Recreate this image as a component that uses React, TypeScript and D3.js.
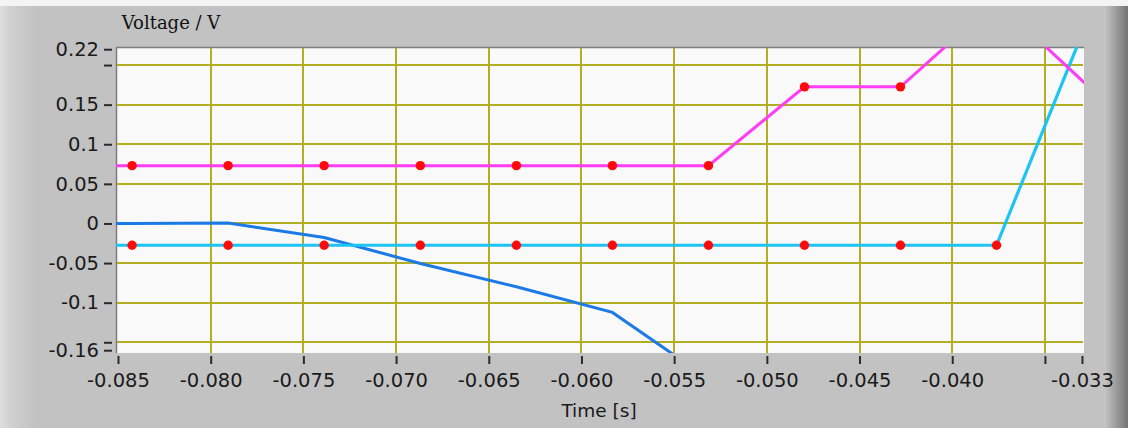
import React, { useEffect, useRef } from 'react'
import * as d3 from 'd3'

// sample times (s)
const times = [-0.08942, -0.08424, -0.07906, -0.07388, -0.06869, -0.06351, -0.05833, -0.05315, -0.04797, -0.04279, -0.03761, -0.03243]

// voltages (V)
const magentaVals = [0.073, 0.073, 0.073, 0.073, 0.073, 0.073, 0.073, 0.073, 0.1725, 0.1725, 0.281, 0.168]
const cyanVals = [-0.0275, -0.0275, -0.0275, -0.0275, -0.0275, -0.0275, -0.0275, -0.0275, -0.0275, -0.0275, -0.0275, 0.272]
const blueVals = [0, 0, 0.0005, -0.0177, -0.0505, -0.08, -0.1123, -0.196]

const xTicks = [-0.085, -0.08, -0.075, -0.07, -0.065, -0.06, -0.055, -0.05, -0.045, -0.04, -0.033]
const xMinorTicks = [-0.035]
const xGrid = [-0.08, -0.075, -0.07, -0.065, -0.06, -0.055, -0.05, -0.045, -0.04, -0.035]
const yTicks = [0.22, 0.15, 0.1, 0.05, 0, -0.05, -0.1, -0.16]
const yMinorTicks = [0.2, -0.15]
const yGrid = [0.2, 0.15, 0.1, 0.05, 0, -0.05, -0.1, -0.15]

const W = 1128
const H = 428
const plot = { left: 116, top: 47, right: 1084, bottom: 353 }
const gridColor = '#b3ad22'

function Chart() {
    const ref = useRef<SVGSVGElement>(null)

    useEffect(() => {
        const svg = d3.select(ref.current)
        svg.selectAll('*').remove()

        const x = d3.scaleLinear().domain([-0.085, -0.033]).range([118, 1082])
        const y = d3.scaleLinear().domain([-0.16, 0.22]).range([350.2, 49.2])

        const defs = svg.append('defs')
        const lg = defs.append('linearGradient').attr('id', 'leftEdge').attr('x1', 0).attr('x2', 1)
        lg.append('stop').attr('offset', 0).attr('stop-color', '#dedede')
        lg.append('stop').attr('offset', 0.25).attr('stop-color', '#d2d2d2')
        lg.append('stop').attr('offset', 1).attr('stop-color', '#c2c2c2')
        const rg = defs.append('linearGradient').attr('id', 'rightEdge').attr('x1', 0).attr('x2', 1)
        rg.append('stop').attr('offset', 0).attr('stop-color', '#c0c0c0')
        rg.append('stop').attr('offset', 1).attr('stop-color', '#737373')
        defs.append('clipPath').attr('id', 'plotClip')
            .append('rect')
            .attr('x', plot.left).attr('y', plot.top)
            .attr('width', plot.right - plot.left).attr('height', plot.bottom - plot.top)

        // panel
        svg.append('rect').attr('width', W).attr('height', H).attr('fill', '#c2c2c2')
        svg.append('rect').attr('width', 36).attr('height', H).attr('fill', 'url(#leftEdge)')
        svg.append('rect').attr('x', 1106).attr('width', 22).attr('height', H).attr('fill', 'url(#rightEdge)')
        svg.append('rect').attr('width', W).attr('height', 6).attr('fill', '#f4f4f4')

        // plot area
        svg.append('rect')
            .attr('x', plot.left).attr('y', plot.top)
            .attr('width', plot.right - plot.left).attr('height', plot.bottom - plot.top)
            .attr('fill', '#f9f9f9')
        svg.append('path')
            .attr('d', `M${plot.left + 0.5},${plot.bottom}V${plot.top + 0.5}H${plot.right}`)
            .attr('fill', 'none').attr('stroke', '#7d7d7d').attr('stroke-width', 1.5)

        // grid
        const grid = svg.append('g').attr('shape-rendering', 'crispEdges')
        grid.selectAll('.hg').data(yGrid).enter().append('line')
            .attr('x1', plot.left + 1).attr('x2', plot.right - 1)
            .attr('y1', d => Math.round(y(d))).attr('y2', d => Math.round(y(d)))
            .attr('stroke', gridColor).attr('stroke-width', 2)
        grid.selectAll('.vg').data(xGrid).enter().append('line')
            .attr('y1', plot.top + 1).attr('y2', plot.bottom)
            .attr('x1', d => Math.round(x(d))).attr('x2', d => Math.round(x(d)))
            .attr('stroke', gridColor).attr('stroke-width', 2)

        // traces
        const traces = svg.append('g').attr('clip-path', 'url(#plotClip)')
        const line = d3.line<number>().x((d, i) => x(times[i])).y(d => y(d))
        traces.append('path').datum(blueVals).attr('d', line)
            .attr('fill', 'none').attr('stroke', '#1c7ae6').attr('stroke-width', 3)
        traces.append('path').datum(cyanVals).attr('d', line)
            .attr('fill', 'none').attr('stroke', '#1cc4f4').attr('stroke-width', 3.2)
        traces.append('path').datum(magentaVals).attr('d', line)
            .attr('fill', 'none').attr('stroke', '#ff3cf6').attr('stroke-width', 3)

        const dots = [...magentaVals, ...cyanVals].map((v, i) => ({ t: times[i % times.length], v }))
        traces.selectAll('.dot').data(dots).enter().append('circle')
            .attr('cx', d => x(d.t)).attr('cy', d => y(d.v)).attr('r', 4.7)
            .attr('fill', '#ff0a0a')

        // y axis
        const yAxis = d3.axisLeft(y).tickValues([...yTicks, ...yMinorTicks]).tickSize(8).tickPadding(5)
            .tickFormat(d => (yMinorTicks.includes(d as number) ? '' : String(d)))
        const gy = svg.append('g').attr('transform', 'translate(112,0)').call(yAxis)
        gy.select('.domain').remove()
        gy.selectAll('line').attr('stroke', '#2a2a2a').attr('stroke-width', 2)
        gy.selectAll('text').style('font-family', 'DejaVu Sans').style('font-size', '19.5px').attr('fill', '#1a1a1a')

        // x axis
        const xAxis = d3.axisBottom(x).tickValues([...xTicks, ...xMinorTicks]).tickSize(8).tickPadding(9)
            .tickFormat(d => (xMinorTicks.includes(d as number) ? '' : (d as number).toFixed(3)))
        const gx = svg.append('g').attr('transform', 'translate(0,356)').call(xAxis)
        gx.select('.domain').remove()
        gx.selectAll('line').attr('stroke', '#2a2a2a').attr('stroke-width', 2)
        gx.selectAll('text').style('font-family', 'DejaVu Sans').style('font-size', '19.5px').attr('fill', '#1a1a1a')

        // titles
        svg.append('text').attr('x', 171).attr('y', 29).attr('text-anchor', 'middle')
            .style('font-family', 'DejaVu Serif').style('font-size', '18px').attr('fill', '#111')
            .text('Voltage / V')
        svg.append('text').attr('x', 599).attr('y', 417).attr('text-anchor', 'middle')
            .style('font-family', 'DejaVu Sans').style('font-size', '18.5px').attr('fill', '#1a1a1a')
            .text('Time [s]')
    }, [])

    return <svg ref={ref} width={W} height={H} style={{ position: 'absolute', left: 0, top: 0 }} />
}

export default function App() {
    return <Chart />
}
